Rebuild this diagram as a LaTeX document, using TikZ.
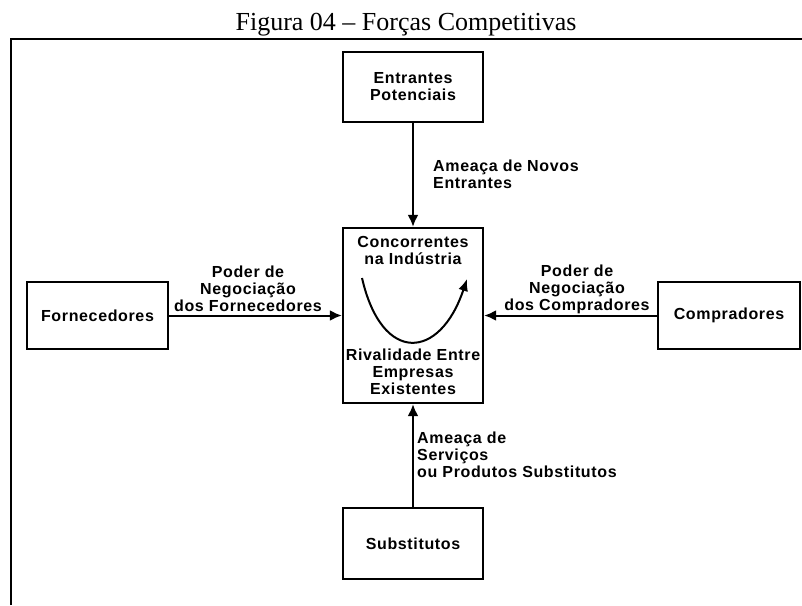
\documentclass[tikz,border=0pt]{standalone}
\usepackage{fontspec}
\setmainfont{Liberation Serif}
\newfontfamily\diagfont[LetterSpace=4]{Liberation Sans}
\usepackage{tikz}
\usetikzlibrary{arrows.meta,positioning}

\begin{document}
\begin{tikzpicture}[
  x=1pt,
  y=-1pt,
  caixa/.style={
    rectangle,
    draw=black,
    line width=2.4pt,
    align=center,
    minimum width=140pt,
    minimum height=67pt,
    inner sep=0pt,
    font=\diagfont\bfseries\fontsize{16}{17}\selectfont
  },
  rotulo/.style={
    align=center,
    inner sep=0pt,
    font=\diagfont\bfseries\fontsize{16}{17}\selectfont
  },
  seta/.style={-{Latex[length=12pt,width=11pt]}, line width=2pt},
  curva/.style={-{Latex[length=12pt,width=10pt]}, line width=2pt}
]
\useasboundingbox (0,0) rectangle (802,605);

% Title and frame
\node[anchor=base, font=\fontsize{26}{30}\selectfont] (titulo) at (406,30) {Figura 04 -- Forças Competitivas};
\draw[line width=2pt] (11,605) -- (11,39) -- (802,39);

% The five forces
\node[caixa, minimum height=70pt] (entrantes) at (413,87) {Entrantes\\Potenciais};
\node[caixa, minimum height=175pt] (centro) at (413,315.5) {};
\node[caixa, minimum width=141pt] (fornecedores) at (97.5,315.5) {Fornecedores};
\node[caixa, minimum width=142pt] (compradores) at (729,315.5) {Compradores};
\node[caixa, minimum height=71pt] (substitutos) at (413,543.5) {Substitutos};

% Inside the centre box
\node[rotulo, below=9pt of centro.north] (concorrentes) {Concorrentes\\na Indústria};
\node[rotulo, above=9pt of centro.south] (rivalidade) {Rivalidade Entre\\Empresas\\Existentes};
\coordinate (curvaIni) at (362,278);
\coordinate (curvaFim) at (467,279);
\draw[curva] (curvaIni) .. controls (382,365) and (440,360) .. (curvaFim);

% Arrows
\draw[seta] (entrantes) -- (centro);
\draw[seta] (substitutos) -- (centro);
\draw[seta] (fornecedores) -- (centro);
\draw[seta] (compradores) -- (centro);

% Labels
\node[rotulo, anchor=west, align=left] (novos) at (433,174) {Ameaça de Novos\\Entrantes};
\node[rotulo] (podforn) at (248,289) {Poder de\\Negociação\\dos Fornecedores};
\node[rotulo] (podcomp) at (577,289) {Poder de\\Negociação\\dos Compradores};
\node[rotulo, anchor=west, align=left] (servicos) at (417,455) {Ameaça de\\Serviços\\ou Produtos Substitutos};
\end{tikzpicture}
\end{document}
